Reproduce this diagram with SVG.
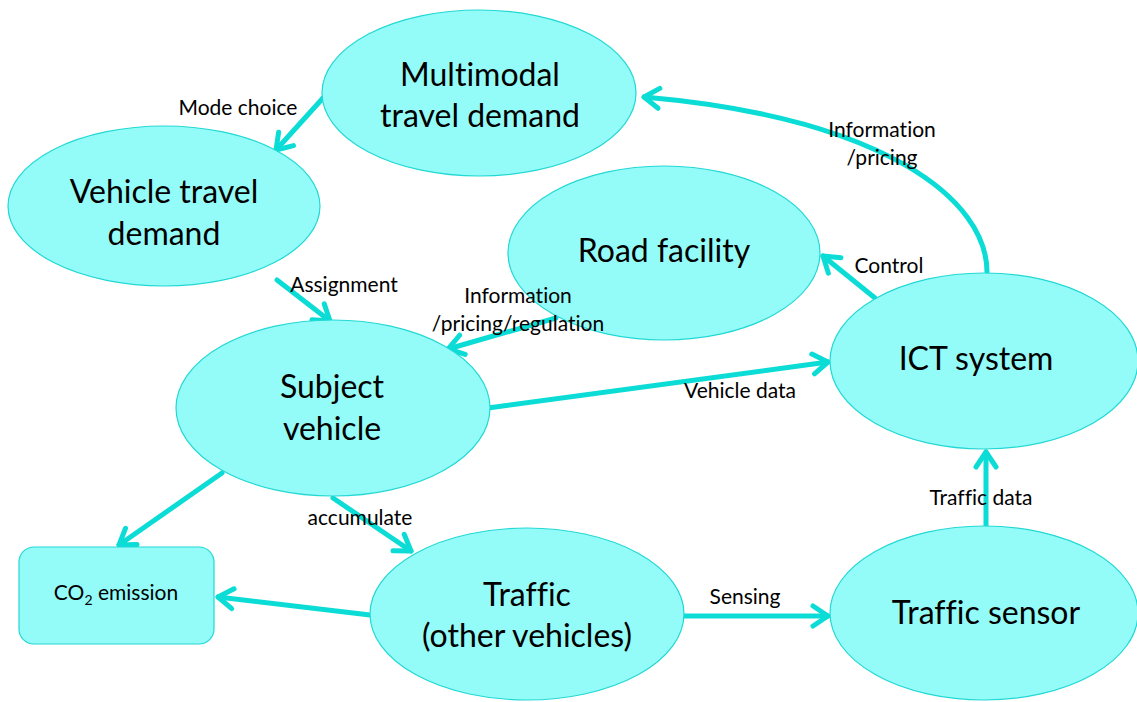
<svg xmlns="http://www.w3.org/2000/svg" width="1137" height="702" viewBox="0 0 1137 702">
<defs>
<style>
.node{fill:#94FCF8;stroke:#22D8D4;stroke-width:1.2}
.nt{font-family:Lato,"Open Sans","Liberation Sans",sans-serif;font-size:32px;fill:#000;text-anchor:middle;font-variant-ligatures:none}
.lb{font-family:Lato,"Open Sans","Liberation Sans",sans-serif;font-size:21px;fill:#000;text-anchor:middle;font-variant-ligatures:none}
.c{fill:none;stroke:#0CDCD6;stroke-width:5;stroke-linecap:round;marker-end:url(#ah)}
</style>
<marker id="ah" markerUnits="userSpaceOnUse" markerWidth="40" markerHeight="40" viewBox="-20 -20 40 40" refX="0" refY="0" orient="auto">
<path d="M-15,-10 L0,0 L-15,10" fill="none" stroke="#0CDCD6" stroke-width="5" stroke-linecap="round" stroke-linejoin="round"/>
</marker>
</defs>
<rect width="1137" height="702" fill="#fff"/>
<g id="connectors">
<path class="c" d="M323,98 L276,150"/>
<path class="c" d="M277,280 L330,321"/>
<path class="c" d="M556,318 L448,349"/>
<path class="c" d="M875,298 L823,256"/>
<path class="c" d="M987,272 C987,200 885,118 644,97"/>
<path class="c" d="M488,408 L828,362"/>
<path class="c" d="M986,527 L986,452"/>
<path class="c" d="M684,616 L828,616"/>
<path class="c" d="M333,498 L411,551"/>
<path class="c" d="M222,473 L119,545"/>
<path class="c" d="M370,615 L218,597"/>
</g>
<g id="multimodal">
<ellipse class="node" cx="479" cy="93" rx="157" ry="83"/>
<text class="nt" x="480" y="86">Multimodal</text>
<text class="nt" x="480" y="127">travel demand</text>
</g>
<g id="vehicle-travel">
<ellipse class="node" cx="164" cy="206" rx="156" ry="80"/>
<text class="nt" x="164" y="203">Vehicle travel</text>
<text class="nt" x="164" y="245">demand</text>
</g>
<g id="road-facility">
<ellipse class="node" cx="664" cy="253" rx="156" ry="87"/>
<text class="nt" x="664" y="262">Road facility</text>
</g>
<g id="ict">
<ellipse class="node" cx="984" cy="361" rx="154" ry="88"/>
<text class="nt" x="976" y="370">ICT system</text>
</g>
<g id="subject">
<ellipse class="node" cx="333" cy="408" rx="157" ry="88"/>
<text class="nt" x="332" y="398">Subject</text>
<text class="nt" x="332" y="440">vehicle</text>
</g>
<g id="traffic">
<ellipse class="node" cx="527" cy="614" rx="157" ry="86"/>
<text class="nt" x="527" y="606">Traffic</text>
<text class="nt" x="527" y="647">(other vehicles)</text>
</g>
<g id="sensor">
<ellipse class="node" cx="984" cy="613" rx="154" ry="87"/>
<text class="nt" x="986" y="624">Traffic sensor</text>
</g>
<g id="co2">
<rect class="node" x="19" y="547" width="195" height="97" rx="15"/>
<text class="lb" x="116" y="600">CO<tspan font-size="14" dy="5">2</tspan><tspan dy="-5"> emission</tspan></text>
</g>
<g id="labels">
<text class="lb" x="238" y="115">Mode choice</text>
<text class="lb" x="344" y="292">Assignment</text>
<text class="lb" x="518" y="303">Information</text>
<text class="lb" x="518" y="331">/pricing/regulation</text>
<text class="lb" x="889" y="273">Control</text>
<text class="lb" x="882" y="137">Information</text>
<text class="lb" x="882" y="165">/pricing</text>
<text class="lb" x="740" y="398">Vehicle data</text>
<text class="lb" x="981" y="505">Traffic data</text>
<text class="lb" x="745" y="604">Sensing</text>
<text class="lb" x="360" y="525">accumulate</text>
</g>
</svg>
